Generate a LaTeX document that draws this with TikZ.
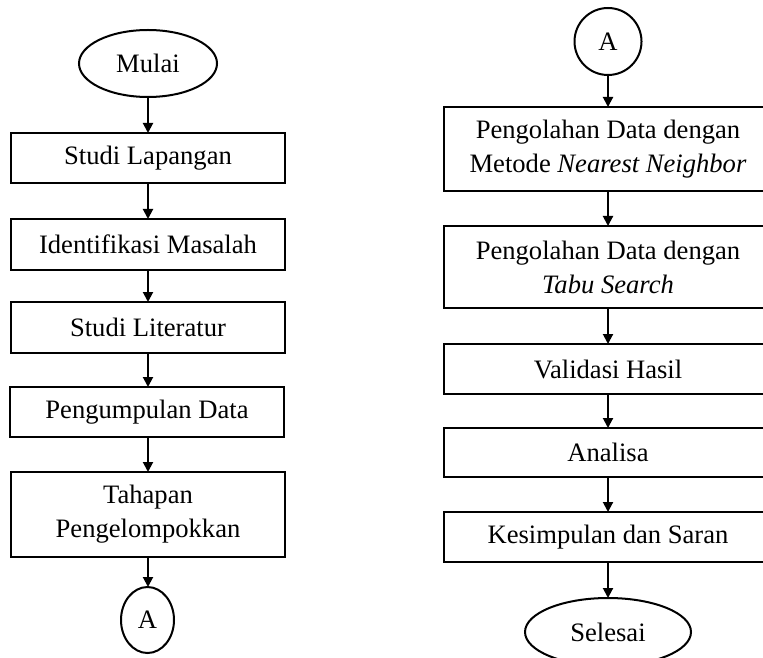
\documentclass[tikz,border=0pt]{standalone}
\usepackage{fontspec}
\setmainfont{Liberation Serif}
\usetikzlibrary{shapes.geometric,arrows.meta}
\begin{document}
\begin{tikzpicture}[x=0.5pt,y=-0.5pt,
  every node/.style={font=\fontsize{13.3}{17}\selectfont, align=center, inner sep=0pt, outer sep=0pt},
  procbox/.style={draw, line width=1pt, rectangle},
  leftbox/.style={procbox, minimum width=137pt},
  rightbox/.style={procbox, minimum width=164pt},
  term/.style={draw, line width=1pt, ellipse},
  conn/.style={draw, line width=1pt, ellipse},
  flow/.style={line width=1pt, -{Triangle[width=5pt,length=5pt]}}
]
\useasboundingbox (0,0) rectangle (763,657);
% left column
\node[term, minimum width=69pt, minimum height=33.5pt] (mulai) at (148,63.5) {Mulai};
\node[leftbox, minimum height=25pt] (b1) at (148,158) {Studi Lapangan};
\node[leftbox, minimum height=25.5pt] (b2) at (148,244.5) {Identifikasi Masalah};
\node[leftbox, minimum height=25.5pt] (b3) at (148,327.5) {Studi Literatur};
\node[leftbox, minimum height=25pt] (b4) at (147,412) {Pengumpulan Data};
\node[leftbox, minimum height=42.5pt] (b5) at (148,514.5) {Tahapan\\Pengelompokkan};
\node[conn, minimum width=26.5pt, minimum height=33pt] (ca) at (147.5,620) {A};
% right column
\node[conn, minimum width=33.5pt, minimum height=33.5pt] (cb) at (608,41.5) {A};
\node[rightbox, minimum height=42pt] (r1) at (608,149) {Pengolahan Data dengan\\Metode \textit{Nearest Neighbor}};
\node[rightbox, minimum height=41pt] (r2) at (608,267) {Pengolahan Data dengan\\\textit{Tabu Search}};
\node[rightbox, minimum height=25pt] (r3) at (608,369) {Validasi Hasil};
\node[rightbox, minimum height=24.5pt] (r4) at (608,452.5) {Analisa};
\node[rightbox, minimum height=25pt] (r5) at (608,537) {Kesimpulan dan Saran};
\node[term, minimum width=83pt, minimum height=34pt] (selesai) at (608,632) {Selesai};
% connectors
\draw[flow] (mulai) -- (b1);
\draw[flow] (b1) -- (b2);
\draw[flow] (b2) -- (b3);
\draw[flow] (b3) -- (b3 |- b4.north);
\draw[flow] (b4.south -| b5) -- (b5);
\draw[flow] (b5) -- (b5 |- ca.north);
\draw[flow] (cb) -- (r1);
\draw[flow] (r1) -- (r2);
\draw[flow] (r2) -- (r3);
\draw[flow] (r3) -- (r4);
\draw[flow] (r4) -- (r5);
\draw[flow] (r5) -- (selesai);
\end{tikzpicture}
\end{document}
